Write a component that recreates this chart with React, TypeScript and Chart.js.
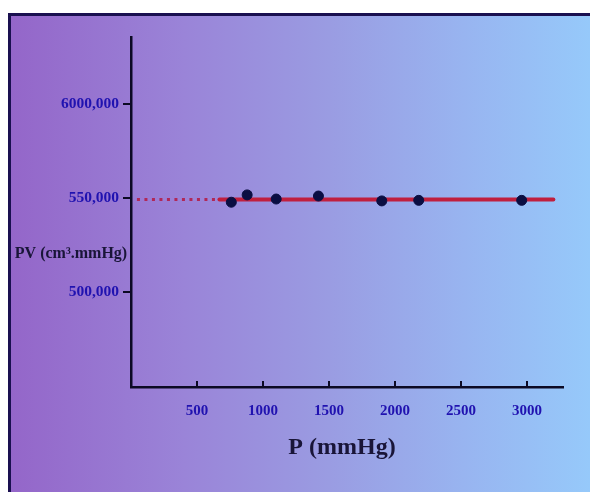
import React, { useEffect, useRef } from "react";
import { Chart, registerables } from "chart.js";

Chart.register(...registerables);

// ---- data ----
const pressures = [760, 880, 1100, 1420, 1900, 2180, 2960];
const pvValues = [547900, 551800, 549600, 551200, 548600, 548900, 548900];
const fitX = [670, 3200];
const fitY = [549300, 549300];
const extrapX = [45, 670];
const extrapY = [549300, 549300];
const xTickValues = [500, 1000, 1500, 2000, 2500, 3000];
const yTickValues = [500000, 550000, 600000];
const yTickLabels = ["500,000", "550,000", "6000,000"];
const xTitle = "P (mmHg)";
const yTitle = "PV (cm³.mmHg)";

const SERIF = "'Liberation Serif', 'Times New Roman', Times, serif";
const AXIS_COLOR = "#0c0a24";
const TICK_COLOR = "#2012b0";
const TITLE_COLOR = "#191538";

const overlayPlugin = {
  id: "overlay",
  afterDraw(chart: any) {
    const { ctx, chartArea, scales } = chart;
    const xs = scales.x;
    const ys = scales.y;
    ctx.save();
    ctx.strokeStyle = AXIS_COLOR;
    ctx.lineWidth = 2;
    xs.ticks.forEach((t: any) => {
      const px = Math.round(xs.getPixelForValue(t.value));
      ctx.beginPath();
      ctx.moveTo(px, chartArea.bottom);
      ctx.lineTo(px, chartArea.bottom - 6);
      ctx.stroke();
    });
    ctx.fillStyle = TITLE_COLOR;
    ctx.textAlign = "center";
    ctx.textBaseline = "alphabetic";
    ctx.font = `bold 24px ${SERIF}`;
    ctx.fillText(xTitle, (chartArea.left + chartArea.right) / 2 - 5, chartArea.bottom + 67);
    ctx.font = `bold 16px ${SERIF}`;
    ctx.fillText(yTitle, chartArea.left / 2, ys.getPixelForValue(525000) + 13);
    ctx.restore();
  },
};

export default function App() {
  const canvasRef = useRef<HTMLCanvasElement | null>(null);

  useEffect(() => {
    if (!canvasRef.current) return;
    const chart = new Chart(canvasRef.current, {
      type: "scatter",
      data: {
        datasets: [
          {
            type: "scatter",
            label: "PV",
            data: pressures.map((p, i) => ({ x: p, y: pvValues[i] })),
            backgroundColor: "#0a0e42",
            borderColor: "#0a0e42",
            pointRadius: 5,
          } as any,
          {
            type: "line",
            label: "fit",
            data: fitX.map((x, i) => ({ x, y: fitY[i] })),
            borderColor: "#c01f3e",
            borderWidth: 4,
            pointRadius: 0,
            borderCapStyle: "round",
          } as any,
          {
            type: "line",
            label: "extrapolation",
            data: extrapX.map((x, i) => ({ x, y: extrapY[i] })),
            borderColor: "#b02858",
            borderWidth: 3,
            borderDash: [3, 4.5],
            pointRadius: 0,
          } as any,
        ],
      },
      options: {
        animation: false,
        responsive: true,
        maintainAspectRatio: false,
        layout: { padding: { top: 21, right: 27, left: 0, bottom: 0 } },
        plugins: {
          legend: { display: false },
          tooltip: { enabled: false },
          title: { display: false },
        },
        scales: {
          x: {
            type: "linear",
            min: 0,
            max: 3273,
            afterBuildTicks: (scale: any) => {
              scale.ticks = xTickValues.map((v) => ({ value: v }));
            },
            afterFit: (scale: any) => {
              scale.height = 105;
            },
            grid: { display: false, drawTicks: false },
            border: { display: true, color: AXIS_COLOR, width: 2.5 },
            ticks: {
              padding: 15,
              color: TICK_COLOR,
              font: { family: SERIF, size: 15, weight: "bold" },
              callback: (v: any) => String(v),
            },
          },
          y: {
            type: "linear",
            min: 449600,
            max: 635800,
            afterBuildTicks: (scale: any) => {
              scale.ticks = yTickValues.map((v) => ({ value: v }));
            },
            afterFit: (scale: any) => {
              scale.width = 120;
            },
            grid: {
              display: true,
              drawOnChartArea: false,
              drawTicks: true,
              tickLength: 8,
              color: AXIS_COLOR,
              lineWidth: 2,
            },
            border: { display: true, color: AXIS_COLOR, width: 2.5 },
            ticks: {
              padding: 4,
              color: TICK_COLOR,
              font: { family: SERIF, size: 15.5, weight: "bold" },
              callback: (v: any) => {
                const idx = yTickValues.indexOf(Number(v));
                return idx >= 0 ? yTickLabels[idx] : "";
              },
            },
          },
        },
      } as any,
      plugins: [overlayPlugin],
    });
    return () => chart.destroy();
  }, []);

  return (
    <div
      style={{
        position: "absolute",
        left: 8,
        top: 13,
        width: 582,
        height: 479,
        boxSizing: "border-box",
        borderTop: "3px solid #1a1050",
        borderLeft: "3px solid #1a1050",
        background:
          "linear-gradient(to right, #9466c9 0%, #9a84d8 30%, #9a9ce2 55%, #98b4f0 78%, #96c9fa 100%)",
        overflow: "hidden",
      }}
    >
      <div style={{ position: "relative", width: 579, height: 476 }}>
        <canvas ref={canvasRef} />
      </div>
    </div>
  );
}
